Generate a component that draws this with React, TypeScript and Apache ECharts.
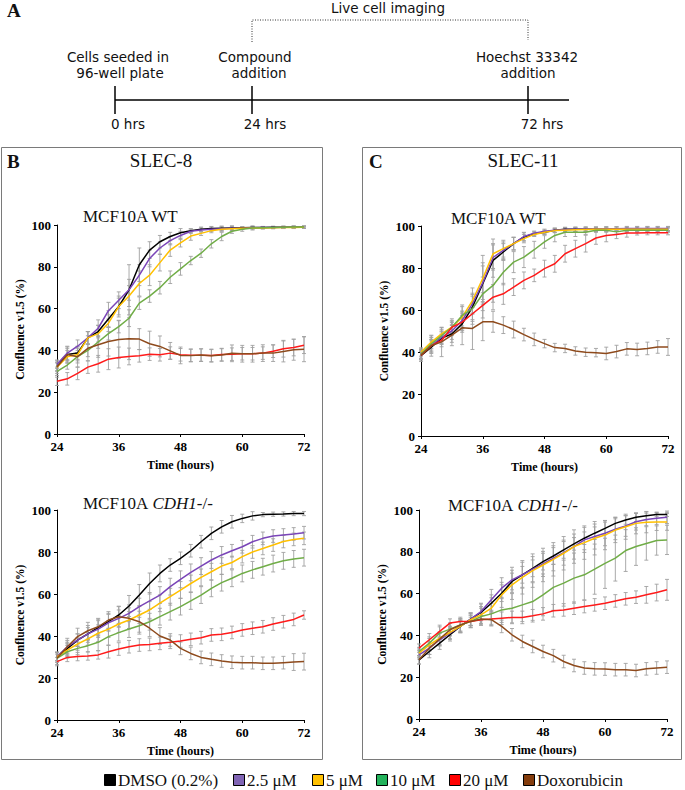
import React, { useEffect, useRef } from "react";
import * as echarts from "echarts";

// ---------- data ----------
const HOURS = [24, 26, 28, 30, 32, 34, 36, 38, 40, 42, 44, 46, 48, 50, 52, 54, 56, 58, 60, 62, 64, 66, 68, 70, 72];
const SERIES_NAMES = ["DMSO (0.2%)", "2.5 μM", "5 μM", "10 μM", "20 μM", "Doxorubicin"];
const LINE_COLORS = ["#000000", "#7A45B8", "#FFC000", "#70AD47", "#FF1A1A", "#8E4A1C"];
const LEGEND_COLORS = ["#000000", "#8064B4", "#FFC000", "#23B25B", "#FF0000", "#843C0C"];
const Y_TICKS = [0, 20, 40, 60, 80, 100];
const X_TICKS = [24, 36, 48, 60, 72];

// SLEC-8, MCF10A WT
const B_WT_DMSO = [32.3, 38, 38.7, 46, 49, 55, 61, 69, 81, 88, 92, 94.5, 96.3, 97.3, 98, 98.3, 98.5, 98.6, 98.7, 98.8, 98.8, 98.9, 98.9, 99, 99];
const B_WT_P25 = [33.4, 38.7, 42, 46, 50.6, 59, 64, 69, 76, 84, 89, 92.5, 95, 97, 97.6, 98, 98.2, 98.4, 98.5, 98.7, 98.8, 98.8, 98.9, 99, 99];
const B_WT_P5 = [32, 37, 38, 46, 48, 53, 61, 66, 72, 76, 82, 88, 91.5, 94.7, 96, 97.3, 98, 98.2, 98.4, 98.5, 98.6, 98.7, 98.8, 98.8, 98.9];
const B_WT_P10 = [30, 33, 37, 40, 44, 48, 51.4, 55.4, 62.6, 66, 70, 75, 79, 83, 86.5, 91, 94.5, 97, 98, 98.6, 98.7, 98.8, 98.9, 99, 99];
const B_WT_P20 = [25.2, 26.4, 29, 32, 33.6, 35.8, 36.6, 37.1, 37.4, 38.2, 37.9, 38.7, 37.9, 37.7, 37.7, 37.6, 38, 38.2, 38.4, 38.4, 38.7, 39.6, 40.8, 41.4, 42.5];
const B_WT_DOX = [32, 38, 37, 41, 42.7, 44.3, 45.2, 45.6, 45.4, 43.2, 41.9, 39.8, 37.6, 37.5, 37.8, 37.4, 37.8, 38.6, 38.4, 38.4, 38.7, 38.7, 39.5, 40.3, 40.6];
const B_WT_ERR_DMSO = [2, 3, 3, 3, 3, 4, 5, 12, 8, 4, 3, 2, 2, 1, 1, 1, 1, 1, 0.5, 0.5, 0.5, 0.5, 0.5, 0.5, 0.5];
const B_WT_ERR_P25 = [2, 3, 3, 3, 4, 4, 4, 5, 5, 4, 3, 2, 2, 1, 1, 1, 1, 1, 0.5, 0.5, 0.5, 0.5, 0.5, 0.5, 0.5];
const B_WT_ERR_P5 = [2, 3, 3, 3, 4, 4, 4, 5, 6, 5, 4, 3, 2, 2, 1, 1, 1, 1, 0.5, 0.5, 0.5, 0.5, 0.5, 0.5, 0.5];
const B_WT_ERR_P10 = [2, 2, 3, 3, 3, 3, 3, 4, 3, 3, 3, 3, 3, 2, 2, 2, 2, 1, 1, 1, 0.5, 0.5, 0.5, 0.5, 0.5];
const B_WT_ERR_P20 = [2, 3, 3, 3, 4, 5, 5, 4, 3, 3, 3, 3, 3, 3, 3, 3, 3, 3, 3, 3, 3, 3, 4, 4, 4];
const B_WT_ERR_DOX = [3, 4, 5, 6, 6, 7, 9, 10, 5, 6, 5, 4, 4, 3, 3, 3, 3, 4, 4, 4, 4, 4, 5, 5, 6];

// SLEC-11, MCF10A WT
const C_WT_DMSO = [38.3, 42.3, 46.6, 48.6, 53.4, 61.4, 72.5, 83.6, 87.6, 91.6, 94.8, 96.3, 97, 98, 98.4, 98.4, 98.4, 98.4, 98.5, 98.5, 98.5, 98.6, 98.6, 98.6, 98.6];
const C_WT_P25 = [39, 43, 47, 50, 55, 63, 73, 85, 88.4, 91.6, 95, 96.6, 97.5, 98, 98.3, 98.5, 98.6, 98.6, 98.7, 98.7, 98.8, 98.8, 98.8, 98.8, 98.8];
const C_WT_P5 = [40, 44.7, 48.6, 51.8, 56.6, 64.5, 75, 86.8, 89.2, 91.6, 94, 96, 97, 97.8, 98, 98.2, 98.3, 98.4, 98.4, 98.5, 98.5, 98.5, 98.5, 98.5, 98.5];
const C_WT_P10 = [39, 43.9, 47.8, 51.8, 57.4, 60.6, 67.7, 71.7, 78, 82.8, 85.2, 88.7, 92.4, 95.5, 97, 97, 97, 98, 98, 97.2, 98, 98, 98, 98, 98];
const C_WT_P20 = [38.3, 43, 45.5, 51.8, 54.2, 58.2, 62.2, 66.1, 67.7, 70.9, 74.1, 76.5, 79.7, 82, 86.8, 89.2, 91.6, 94.3, 95.5, 96, 96.7, 96.7, 96.8, 96.8, 96.8];
const C_WT_DOX = [38.5, 43, 44.8, 48, 51.5, 51.2, 54.4, 54.4, 52.8, 50.7, 48.3, 46, 44, 42.1, 41.7, 40.5, 39.9, 39.7, 39.3, 40.2, 41.5, 41.2, 41.7, 42.4, 42.4];
const C_WT_ERR_DMSO = [2, 3, 3, 4, 4, 6, 10, 8, 4, 3, 2, 1, 1, 1, 1, 1, 1, 1, 1, 1, 1, 1, 1, 1, 1];
const C_WT_ERR_P25 = [2, 3, 3, 4, 4, 5, 8, 6, 4, 3, 2, 1, 1, 1, 1, 1, 1, 1, 1, 1, 1, 1, 1, 1, 1];
const C_WT_ERR_P5 = [2, 3, 3, 4, 5, 6, 11, 7, 4, 3, 2, 1, 1, 1, 1, 1, 1, 1, 1, 1, 1, 1, 1, 1, 1];
const C_WT_ERR_P10 = [2, 3, 3, 3, 5, 6, 8, 8, 6, 5, 5, 4, 3, 3, 2, 2, 1, 1, 1, 1, 1, 1, 1, 1, 1];
const C_WT_ERR_P20 = [2, 3, 3, 3, 4, 5, 6, 6, 5, 4, 4, 3, 4, 4, 4, 4, 4, 3, 3, 2, 2, 1, 1, 1, 1];
const C_WT_ERR_DOX = [3, 5, 7, 5, 8, 10, 9, 5, 4, 4, 3, 3, 2, 2, 2, 2, 2, 2, 3, 3, 3, 3, 3, 3, 4];

// SLEC-8, MCF10A CDH1-/-
const B_KO_DMSO = [30.2, 34, 38, 41, 44, 46.8, 50, 54.3, 59.5, 65, 69.8, 73.8, 77, 80.6, 84.9, 88.9, 92, 94.4, 96, 97.2, 97.8, 98, 98.1, 98.3, 98.3];
const B_KO_P25 = [30.2, 34.9, 38, 41, 43.3, 46.3, 48.4, 50.8, 54, 56.7, 59.5, 63.5, 67, 70.3, 73.3, 76.2, 78.6, 80.6, 82.5, 84.9, 86.5, 87.6, 88.1, 88.6, 89.2];
const B_KO_P5 = [30.2, 33.3, 36.2, 38.6, 41.3, 43.3, 45.7, 47.6, 50, 52.4, 55.6, 58.7, 61.9, 65, 67.9, 70.6, 73.3, 75, 77.8, 80, 81.7, 83.3, 85, 86, 86.5];
const B_KO_P10 = [29.4, 32.5, 34.1, 35.4, 37, 39.7, 41.6, 43.3, 44.9, 46.8, 49.2, 51.6, 54, 56.7, 59.5, 62.7, 65.4, 67.5, 69.8, 71.5, 73, 74.5, 75.8, 76.7, 77.3];
const B_KO_P20 = [27.8, 29.8, 30.2, 30.5, 31, 32.5, 33.8, 34.9, 35.7, 36, 36.5, 37, 37.6, 38.4, 39.2, 40.5, 40.8, 41.7, 42.9, 43.7, 44.4, 45.7, 46.8, 47.9, 50];
const B_KO_DOX = [29.4, 34.9, 39.7, 42.5, 44.4, 47.6, 49.2, 48.4, 46.8, 43.7, 40, 38.1, 34.1, 31.7, 29.8, 28.9, 28.1, 27.5, 27.3, 27.3, 27, 27, 27.3, 27.6, 27.8];
const B_KO_ERR_DMSO = [2, 3, 3, 4, 4, 4, 4, 5, 5, 5, 4, 3, 3, 3, 3, 3, 3, 3, 2, 2, 1, 1, 1, 1, 1];
const B_KO_ERR_P25 = [2, 3, 3, 3, 4, 4, 4, 4, 4, 4, 4, 4, 4, 4, 4, 4, 4, 3, 3, 3, 3, 3, 3, 3, 3];
const B_KO_ERR_P5 = [2, 3, 3, 3, 4, 4, 4, 4, 4, 4, 4, 4, 4, 4, 4, 4, 4, 3, 3, 3, 3, 3, 3, 3, 3];
const B_KO_ERR_P10 = [2, 3, 3, 3, 4, 4, 4, 4, 4, 4, 4, 4, 4, 4, 4, 4, 4, 4, 4, 4, 4, 4, 4, 4, 4];
const B_KO_ERR_P20 = [2, 2, 2, 2, 2, 3, 3, 3, 3, 3, 3, 3, 3, 3, 3, 3, 3, 3, 3, 3, 3, 3, 3, 3, 2];
const B_KO_ERR_DOX = [3, 4, 4, 4, 4, 4, 5, 5, 5, 4, 4, 3, 3, 3, 3, 3, 3, 3, 3, 3, 3, 3, 3, 4, 4];

// SLEC-11, MCF10A CDH1-/-
const C_KO_DMSO = [28.3, 32.3, 36.3, 40.3, 44.3, 47.8, 51, 55.4, 60.2, 65.8, 69, 72.1, 75.3, 78, 80.9, 83.8, 86.5, 88.9, 91.2, 93.6, 95.2, 96.5, 97.3, 97.8, 97.9];
const C_KO_P25 = [30.7, 33.9, 37.9, 41.1, 44.3, 47.8, 51.4, 57, 62.6, 66.6, 69, 71.7, 74.2, 76.9, 79.6, 82.5, 85.7, 87.3, 88.9, 90.8, 92.4, 94.4, 95.5, 96, 96.5];
const C_KO_P5 = [31.5, 35.5, 38.7, 41.4, 44.3, 47.5, 49.8, 53, 59.4, 64.2, 67.8, 71, 73.7, 76.4, 79.3, 82.5, 84.4, 86.5, 88, 90.4, 92, 93.6, 94.1, 94.2, 94.3];
const C_KO_P10 = [32.3, 36.3, 41.1, 43, 45, 46.7, 49, 50.3, 52.2, 53, 54.6, 56.2, 59.4, 63, 65, 67.4, 69, 71.7, 74.5, 77, 80.6, 82.5, 84, 85.4, 85.7];
const C_KO_P20 = [33.9, 37.9, 41.9, 45.9, 46.7, 46.7, 47.5, 47.8, 48.2, 48.6, 48.6, 49.4, 50.3, 51.8, 52.2, 53, 53.8, 54.6, 55.4, 56.5, 57.5, 58.3, 59.4, 60.5, 61.8];
const C_KO_DOX = [28.3, 33.9, 38.2, 42.7, 45, 46.7, 47.8, 47.5, 44.3, 40.3, 37.1, 34.7, 32.3, 30.3, 27.5, 25.6, 24.4, 24, 23.9, 23.6, 23.6, 23.2, 24, 24.4, 24.8];
const C_KO_ERR_DMSO = [2, 3, 3, 3, 3, 3, 4, 4, 4, 4, 4, 4, 4, 4, 4, 3, 3, 3, 3, 3, 2, 2, 2, 1, 1];
const C_KO_ERR_P25 = [2, 3, 3, 3, 3, 3, 4, 5, 5, 6, 6, 6, 6, 6, 6, 6, 6, 6, 6, 5, 5, 4, 3, 3, 3];
const C_KO_ERR_P5 = [2, 3, 3, 3, 3, 3, 4, 5, 6, 7, 8, 8, 8, 8, 8, 8, 8, 8, 7, 6, 6, 5, 5, 4, 4];
const C_KO_ERR_P10 = [2, 3, 3, 3, 3, 3, 4, 5, 6, 7, 8, 9, 10, 11, 11, 12, 12, 12, 12, 11, 10, 9, 8, 7, 7];
const C_KO_ERR_P20 = [2, 3, 3, 2, 2, 2, 2, 3, 3, 3, 3, 3, 3, 3, 3, 3, 3, 3, 3, 3, 3, 3, 4, 4, 5];
const C_KO_ERR_DOX = [2, 3, 3, 3, 3, 3, 3, 3, 3, 3, 3, 3, 3, 3, 3, 3, 3, 3, 3, 3, 3, 3, 3, 3, 3];

const PANELS = [
  { values: [B_WT_DMSO, B_WT_P25, B_WT_P5, B_WT_P10, B_WT_P20, B_WT_DOX], errors: [B_WT_ERR_DMSO, B_WT_ERR_P25, B_WT_ERR_P5, B_WT_ERR_P10, B_WT_ERR_P20, B_WT_ERR_DOX] },
  { values: [C_WT_DMSO, C_WT_P25, C_WT_P5, C_WT_P10, C_WT_P20, C_WT_DOX], errors: [C_WT_ERR_DMSO, C_WT_ERR_P25, C_WT_ERR_P5, C_WT_ERR_P10, C_WT_ERR_P20, C_WT_ERR_DOX] },
  { values: [B_KO_DMSO, B_KO_P25, B_KO_P5, B_KO_P10, B_KO_P20, B_KO_DOX], errors: [B_KO_ERR_DMSO, B_KO_ERR_P25, B_KO_ERR_P5, B_KO_ERR_P10, B_KO_ERR_P20, B_KO_ERR_DOX] },
  { values: [C_KO_DMSO, C_KO_P25, C_KO_P5, C_KO_P10, C_KO_P20, C_KO_DOX], errors: [C_KO_ERR_DMSO, C_KO_ERR_P25, C_KO_ERR_P5, C_KO_ERR_P10, C_KO_ERR_P20, C_KO_ERR_DOX] },
];

// ---------- layout ----------
const GRIDS = [
  { left: 57, top: 225, width: 247, height: 209 },
  { left: 421, top: 226, width: 247, height: 210 },
  { left: 57, top: 510, width: 247, height: 210 },
  { left: 419, top: 510, width: 248, height: 209 },
];
const SERIF = "'Liberation Serif', 'Times New Roman', serif";
const SANS = "'DejaVu Sans', sans-serif";

function buildOption() {
  const grid = GRIDS.map((g) => ({ ...g, containLabel: false }));
  const xAxis = GRIDS.map((_, i) => ({
    gridIndex: i,
    type: "value",
    min: X_TICKS[0],
    max: X_TICKS[X_TICKS.length - 1],
    interval: X_TICKS[1] - X_TICKS[0],
    name: "Time (hours)",
    nameLocation: "middle",
    nameGap: 25,
    nameTextStyle: { fontFamily: SERIF, fontWeight: "bold", fontSize: 12, color: "#000" },
    axisLine: { lineStyle: { color: "#000", width: 1 } },
    axisTick: { show: true, length: 3, lineStyle: { color: "#000" } },
    axisLabel: { margin: 6, fontFamily: SERIF, fontWeight: "bold", fontSize: 13, color: "#000" },
    splitLine: { show: false },
  }));
  const yAxis = GRIDS.map((_, i) => ({
    gridIndex: i,
    type: "value",
    min: Y_TICKS[0],
    max: Y_TICKS[Y_TICKS.length - 1],
    interval: Y_TICKS[1] - Y_TICKS[0],
    name: "Confluence v1.5 (%)",
    nameLocation: "middle",
    nameGap: 31,
    nameTextStyle: { fontFamily: SERIF, fontWeight: "bold", fontSize: 11.5, color: "#000" },
    axisLine: { show: true, lineStyle: { color: "#000", width: 1 } },
    axisTick: { show: true, length: 3, lineStyle: { color: "#000" } },
    axisLabel: { margin: 6, fontFamily: SERIF, fontWeight: "bold", fontSize: 13, color: "#000" },
    splitLine: { show: false },
  }));

  const series: any[] = [];
  PANELS.forEach((p, gi) => {
    const errData: number[][] = [];
    p.values.forEach((vals, si) => {
      vals.forEach((v, k) => {
        const e = p.errors[si][k];
        errData.push([HOURS[k], v - e, Math.min(v + e, 100.5)]);
      });
    });
    series.push({
      type: "custom",
      name: "error" + gi,
      xAxisIndex: gi,
      yAxisIndex: gi,
      z: 1,
      silent: true,
      encode: { x: 0, y: [1, 2] },
      data: errData,
      renderItem: (params: any, api: any) => {
        const x = api.value(0);
        const lo = api.coord([x, api.value(1)]);
        const hi = api.coord([x, api.value(2)]);
        const w = 2;
        const st = { stroke: "#a0a0a0", lineWidth: 0.9 };
        return {
          type: "group",
          children: [
            { type: "line", shape: { x1: lo[0], y1: lo[1], x2: hi[0], y2: hi[1] }, style: st },
            { type: "line", shape: { x1: lo[0] - w, y1: lo[1], x2: lo[0] + w, y2: lo[1] }, style: st },
            { type: "line", shape: { x1: hi[0] - w, y1: hi[1], x2: hi[0] + w, y2: hi[1] }, style: st },
          ],
        };
      },
    });
    p.values.forEach((vals, si) => {
      series.push({
        type: "line",
        name: SERIES_NAMES[si],
        xAxisIndex: gi,
        yAxisIndex: gi,
        z: 2,
        showSymbol: false,
        symbol: "none",
        color: LINE_COLORS[si],
        lineStyle: { width: 1.5, color: LINE_COLORS[si] },
        data: vals.map((v, k) => [HOURS[k], v]),
      });
    });
  });

  const txt = (text: string, x: number, y: number, font: string, align = "center", extra: any = {}) => ({
    type: "text",
    x,
    y,
    silent: true,
    style: { text, font, fill: "#111", textAlign: align, textVerticalAlign: "middle", ...extra },
  });

  const sansFont = `13.5px ${SANS}`;
  const graphic: any[] = [
    // Panel A
    txt("A", 7, 10, `bold 19px ${SERIF}`, "left"),
    txt("Live cell imaging", 388, 8, sansFont),
    { type: "polyline", silent: true, shape: { points: [[252, 42], [252, 20], [528, 20], [528, 40]] }, style: { stroke: "#333", lineWidth: 1, lineDash: [1, 1.5], fill: null } },
    { type: "line", silent: true, shape: { x1: 115, y1: 100, x2: 569, y2: 100 }, style: { stroke: "#000", lineWidth: 1.5 } },
    { type: "line", silent: true, shape: { x1: 115, y1: 86, x2: 115, y2: 114 }, style: { stroke: "#000", lineWidth: 1.5 } },
    { type: "line", silent: true, shape: { x1: 252, y1: 86, x2: 252, y2: 114 }, style: { stroke: "#000", lineWidth: 1.5 } },
    { type: "line", silent: true, shape: { x1: 528, y1: 86, x2: 528, y2: 114 }, style: { stroke: "#000", lineWidth: 1.5 } },
    txt("Cells seeded in", 118, 57, sansFont),
    txt("96-well plate", 120, 73, sansFont),
    txt("Compound", 255, 57, sansFont),
    txt("addition", 259, 73, sansFont),
    txt("Hoechst 33342", 527, 57, sansFont),
    txt("addition", 528, 73, sansFont),
    txt("0 hrs", 128, 124, sansFont),
    txt("24 hrs", 265, 124, sansFont),
    txt("72 hrs", 542, 124, sansFont),
    // Panel boxes
    { type: "rect", silent: true, z: -1, shape: { x: 1.5, y: 147.5, width: 321, height: 612 }, style: { stroke: "#7a7a7a", lineWidth: 1, fill: null } },
    { type: "rect", silent: true, z: -1, shape: { x: 362.5, y: 147.5, width: 319, height: 612 }, style: { stroke: "#7a7a7a", lineWidth: 1, fill: null } },
    txt("B", 7, 161, `bold 19px ${SERIF}`, "left"),
    txt("C", 369, 161, `bold 19px ${SERIF}`, "left"),
    txt("SLEC-8", 161, 160, `19px ${SERIF}`),
    txt("SLEC-11", 523, 160, `19px ${SERIF}`),
    txt("MCF10A WT", 83, 216, `17px ${SERIF}`, "left"),
    txt("MCF10A WT", 451, 218, `17px ${SERIF}`, "left"),
    {
      type: "text", x: 83, y: 503, silent: true,
      style: { text: "{n|MCF10A }{i|CDH1}{n|-/-}", textAlign: "left", textVerticalAlign: "middle", rich: { n: { font: `17px ${SERIF}`, fill: "#111" }, i: { font: `italic 17px ${SERIF}`, fill: "#111" } } },
    },
    {
      type: "text", x: 448, y: 505, silent: true,
      style: { text: "{n|MCF10A }{i|CDH1}{n|-/-}", textAlign: "left", textVerticalAlign: "middle", rich: { n: { font: `17px ${SERIF}`, fill: "#111" }, i: { font: `italic 17px ${SERIF}`, fill: "#111" } } },
    },
  ];

  // Legend (drawn)
  const legendX = [104, 233, 312, 376, 449, 523];
  SERIES_NAMES.forEach((name, i) => {
    graphic.push({ type: "rect", silent: true, shape: { x: legendX[i] + 0.5, y: 774.5, width: 11, height: 11 }, style: { fill: LEGEND_COLORS[i], stroke: "#000", lineWidth: 1 } });
    graphic.push(txt(name, legendX[i] + 14, 780, `17px ${SERIF}`, "left"));
  });

  return { animation: false, backgroundColor: "#fff", grid, xAxis, yAxis, series, graphic };
}

export default function App() {
  const ref = useRef<HTMLDivElement>(null);
  useEffect(() => {
    if (!ref.current) return;
    const chart = echarts.init(ref.current, undefined, { renderer: "svg" });
    chart.setOption(buildOption() as any);
    return () => chart.dispose();
  }, []);
  return <div ref={ref} style={{ position: "absolute", left: 0, top: 0, width: 685, height: 790, background: "#fff" }} />;
}
